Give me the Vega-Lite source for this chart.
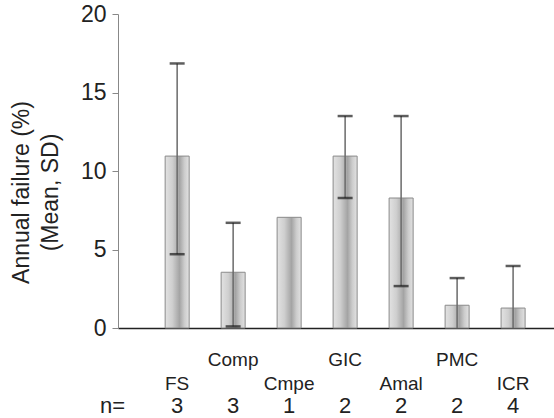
{
  "$schema": "https://vega.github.io/schema/vega-lite/v6.json",
  "width": 436,
  "height": 314,
  "autosize": {"type": "none"},
  "padding": {"left": 118, "top": 14, "right": 0, "bottom": 90},
  "background": "white",
  "config": {"view": {"stroke": null}, "font": "Liberation Sans"},
  "title": {
    "text": "n=",
    "orient": "bottom",
    "anchor": "start",
    "frame": "group",
    "align": "left",
    "baseline": "middle",
    "dx": -18,
    "dy": -11,
    "offset": 0,
    "fontSize": 22,
    "fontWeight": "normal",
    "color": "#222"
  },
  "data": {
    "values": [
      {"cat": "FS", "mean": 10.95, "lower": 4.7, "upper": 16.85, "n": 3},
      {"cat": "Comp", "mean": 3.55, "lower": 0.1, "upper": 6.7, "n": 3},
      {"cat": "Cmpe", "mean": 7.05, "n": 1},
      {"cat": "GIC", "mean": 10.95, "lower": 8.28, "upper": 13.5, "n": 2},
      {"cat": "Amal", "mean": 8.28, "lower": 2.67, "upper": 13.5, "n": 2},
      {"cat": "PMC", "mean": 1.45, "lower": 0, "upper": 3.18, "n": 2},
      {"cat": "ICR", "mean": 1.27, "lower": 0, "upper": 3.95, "n": 4}
    ]
  },
  "encoding": {
    "x": {
      "field": "cat",
      "type": "nominal",
      "sort": null,
      "scale": {"paddingInner": 0.571, "paddingOuter": 0.679, "align": 0.62, "round": false},
      "axis": {
        "title": null,
        "ticks": false,
        "tickSize": 0,
        "domainColor": "#222",
        "domainWidth": 1.5,
        "labelAngle": 0,
        "labelFontSize": 19,
        "labelColor": "#222",
        "labelBaseline": "middle",
        "labelPadding": {"condition": {"test": "indexof(['Comp','GIC','PMC'], datum.value) >= 0", "value": 31}, "value": 55}
      }
    }
  },
  "layer": [
    {
      "mark": {
        "type": "bar",
        "stroke": "#8a8a8a",
        "strokeWidth": 1,
        "color": {
          "gradient": "linear",
          "x1": 0, "x2": 1, "y1": 0, "y2": 0,
          "stops": [
            {"offset": 0, "color": "#e2e2e2"},
            {"offset": 0.3, "color": "#cfcfcf"},
            {"offset": 0.6, "color": "#a4a4a4"},
            {"offset": 0.8, "color": "#cccccc"},
            {"offset": 1, "color": "#e2e2e2"}
          ]
        }
      },
      "encoding": {
        "y": {
          "field": "mean",
          "type": "quantitative",
          "scale": {"domain": [0, 20], "nice": false, "zero": true},
          "axis": {
            "values": [0, 5, 10, 15, 20],
            "grid": false,
            "domainColor": "#888",
            "domainWidth": 1,
            "tickColor": "#888",
            "tickSize": 6,
            "labelFontSize": 23,
            "labelColor": "#222",
            "labelPadding": 6,
            "title": ["Annual failure (%)", "(Mean, SD)"],
            "titleFontSize": 23,
            "titleFontWeight": "normal",
            "titleColor": "#222",
            "titleLineHeight": 29,
            "titleX": -85,
            "titleY": 178
          }
        }
      }
    },
    {
      "mark": {"type": "rule", "color": "#6a6a6a", "strokeWidth": 1.5},
      "transform": [{"filter": "isValid(datum.upper)"}],
      "encoding": {
        "y": {"field": "lower", "type": "quantitative"},
        "y2": {"field": "upper"}
      }
    },
    {
      "mark": {"type": "tick", "color": "#1a1a1a", "size": 15, "thickness": 2.5},
      "transform": [{"filter": "isValid(datum.upper)"}],
      "encoding": {"y": {"field": "upper", "type": "quantitative"}}
    },
    {
      "mark": {"type": "tick", "color": "#1a1a1a", "size": 15, "thickness": 2.5},
      "transform": [{"filter": "isValid(datum.lower) && datum.lower > 0"}],
      "encoding": {"y": {"field": "lower", "type": "quantitative"}}
    },
    {
      "mark": {"type": "text", "fontSize": 22, "color": "#222", "baseline": "middle", "dy": 78},
      "encoding": {
        "y": {"value": "height"},
        "text": {"field": "n", "type": "quantitative"}
      }
    }
  ]
}
